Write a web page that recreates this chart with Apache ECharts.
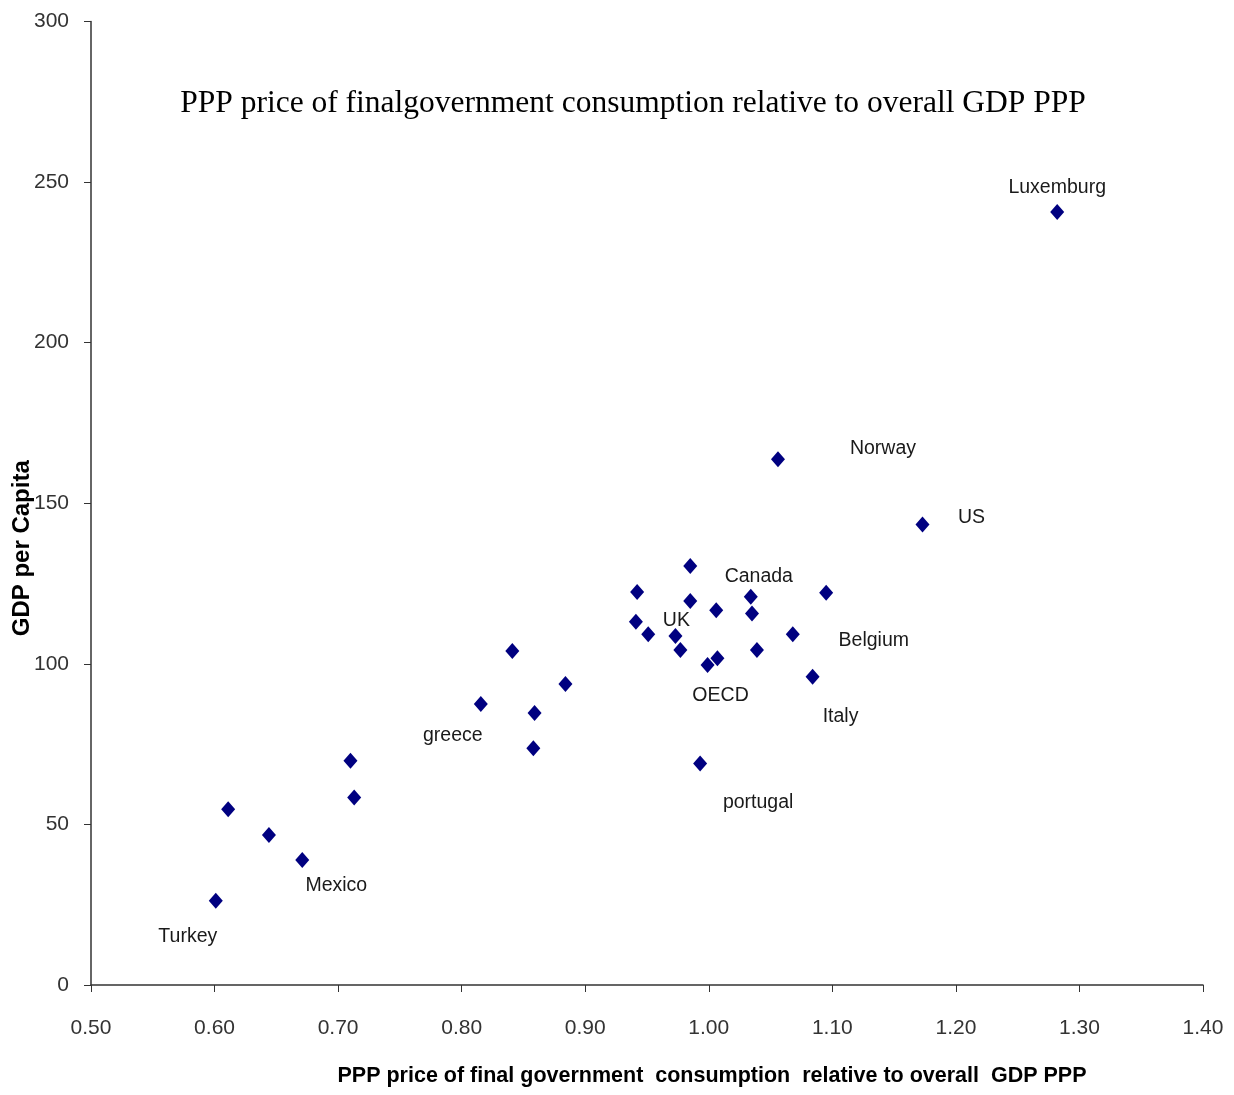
<!DOCTYPE html>
<html>
<head>
<meta charset="utf-8">
<script src="https://cdn.jsdelivr.net/npm/echarts@6/dist/echarts.min.js"></script>
<style>
html,body{margin:0;padding:0;background:#fff;}
#chart{width:1234px;height:1095px;}
</style>
</head>
<body>
<div id="chart"></div>
<script>
// Data
var countries = ['Turkey','','','Mexico','','','','greece','','','','','','','','Canada','','Belgium','','','UK','','OECD','','','','Italy','portugal','Norway','US','Luxemburg'];
var xValues = [0.601,0.611,0.644,0.671,0.710,0.713,0.858,0.8155,0.841,0.859,0.884,0.985,0.942,0.985,1.006,1.034,1.035,1.068,0.941,0.951,0.973,0.977,0.999,1.007,1.039,1.095,1.084,0.993,1.056,1.173,1.282];
var yValues = [26.2,54.7,46.7,38.9,69.8,58.4,73.7,87.5,104.0,84.7,93.7,130.5,122.4,119.6,116.7,120.9,115.7,109.2,113.1,109.2,108.7,104.3,99.6,101.7,104.3,122.1,96.0,69.0,163.7,143.4,240.7];
var xTicks = ['0.50','0.60','0.70','0.80','0.90','1.00','1.10','1.20','1.30','1.40'];
var yTicks = [0,50,100,150,200,250,300];

var labelOffsets = {
  'Luxemburg':[0,-24],'Norway':[105,-11],'US':[49,-7],'Canada':[8,-20],'UK':[1,-15],
  'Belgium':[81,6],'OECD':[13,31],'Italy':[28,40],'portugal':[58,39],'greece':[-28,32],
  'Mexico':[34,26],'Turkey':[-28,36]
};
var labelFont = '"Liberation Sans Narrow", "Liberation Sans", Arial, sans-serif';

var data = xValues.map(function(x,i){
  var item = {value:[x,yValues[i]], name:countries[i]};
  var n = countries[i];
  if(n){
    item.label = {show:true, formatter:n, position:'inside', offset:labelOffsets[n],
      color:'#1a1a1a', fontSize:19.5, fontFamily:labelFont};
  }
  return item;
});

var chart = echarts.init(document.getElementById('chart'));
chart.setOption({
  animation:false,
  backgroundColor:'#fff',
  title:{
    text:'PPP price of finalgovernment consumption relative to overall GDP PPP',
    left:628, top:83, textAlign:'center',
    textStyle:{fontFamily:'"Liberation Serif", "Times New Roman", serif', fontWeight:'normal', fontSize:31.5, color:'#000'}
  },
  grid:{left:91, right:31, top:21.5, bottom:110, containLabel:false, outerBoundsMode:'none'},
  xAxis:{
    type:'value', min:0.5, max:1.4, interval:0.1,
    axisLine:{show:true, onZero:false, lineStyle:{color:'#333', width:1.5}},
    axisTick:{show:true, length:7, inside:false, lineStyle:{color:'#333'}},
    splitLine:{show:false},
    axisLabel:{margin:33, fontSize:21, color:'#333', fontFamily:labelFont,
      formatter:function(v){ var i=Math.round((v-0.5)*10); return xTicks[i]!==undefined?xTicks[i]:''; }},
    name:'PPP price of final government  consumption  relative to overall  GDP PPP',
    nameLocation:'middle', nameGap:80, nameMoveOverlap:false,
    nameTextStyle:{fontSize:21.5, fontWeight:'bold', color:'#000', fontFamily:labelFont, padding:[0,0,0,130]}
  },
  yAxis:{
    type:'value', min:0, max:300, interval:50,
    axisLine:{show:true, onZero:false, lineStyle:{color:'#333', width:1.5}},
    axisTick:{show:true, length:7, inside:false, lineStyle:{color:'#333'}},
    splitLine:{show:false},
    axisLabel:{margin:22, fontSize:21, color:'#333', fontFamily:labelFont,
      formatter:function(v){ return yTicks.indexOf(v)>=0 ? String(v) : ''; }},
    name:'GDP per Capita', nameLocation:'middle', nameGap:57, nameMoveOverlap:false,
    nameTextStyle:{fontSize:24, fontWeight:'bold', color:'#000', fontFamily:'"Liberation Sans", Arial, sans-serif', padding:[0,90,0,0]}
  },
  series:[{
    type:'scatter',
    symbol:'diamond',
    symbolSize:[14,16],
    itemStyle:{color:'#000080', opacity:1},
    emphasis:{disabled:true},
    data:data
  }]
});
</script>
</body>
</html>
